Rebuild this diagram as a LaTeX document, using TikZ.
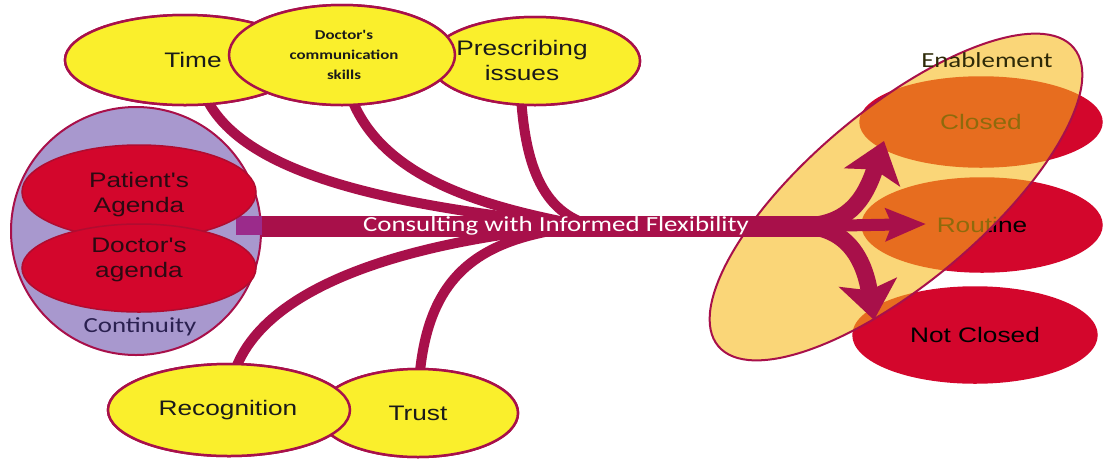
\documentclass[tikz,border=0pt]{standalone}
\usepackage{fontspec}
\usetikzlibrary{shapes.geometric,arrows.meta,calc}
\newfontfamily\arialw[FakeStretch=1.25]{Liberation Sans}
\newfontfamily\calw[FakeStretch=1.25]{Carlito}
\definecolor{crim}{HTML}{A8104A}
\definecolor{yel}{HTML}{FAEF2C}
\definecolor{lav}{HTML}{A898CE}
\definecolor{redA}{HTML}{D3062C}
\definecolor{redB}{HTML}{B00C30}
\definecolor{enab}{HTML}{F6B816}
\definecolor{magseg}{HTML}{9B2B8B}
\definecolor{darktxt}{HTML}{1A1A1A}
\definecolor{maroontxt}{HTML}{2B0A12}
\definecolor{navytxt}{HTML}{2A2050}
\definecolor{enabtxt}{HTML}{2E2A08}
\begin{document}
\begin{tikzpicture}[x=1pt,y=-1pt,
  yell/.style={ellipse, draw=crim, line width=2.5pt, fill=yel, inner sep=0pt},
  redell/.style={ellipse, draw=redB, line width=1.5pt, fill=redA, inner sep=0pt},
  lbl/.style={font=\arialw\fontsize{21}{25}\selectfont, text=darktxt, align=center, inner sep=0pt},
  calbl/.style={font=\calw\fontsize{21.5}{25}\selectfont, inner sep=0pt},
  stem/.style={draw=crim, line width=10pt},
  bigarrow/.style={draw=crim, line width=17pt, -{Stealth[length=38pt,width=58pt,inset=8pt]}},
  midarrow/.style={draw=crim, line width=12pt, -{Stealth[length=40pt,width=32pt,inset=6pt]}}
]
\useasboundingbox (0,0) rectangle (1104,459);

% ---------- ellipses (placed first; stems drawn from them) ----------
\path (185,60) node[yell, minimum width=240pt, minimum height=90pt] (time) {}
      (535,61) node[yell, minimum width=210pt, minimum height=88pt] (presc) {}
      (342,55) node[yell, minimum width=226pt, minimum height=100pt] (comm) {}
      (418,413) node[yell, minimum width=200pt, minimum height=88pt] (trust) {}
      (229,410) node[yell, minimum width=242pt, minimum height=92pt] (recog) {};

% stems
\coordinate (hub) at (825,226);
\draw[stem] ([xshift=12pt]time.center) .. controls (200,170) and (380,204) .. (575,225);
\draw[stem] (comm.center) .. controls (350,170) and (470,204) .. (580,225);
\draw[stem] ([xshift=-15pt]presc.center) .. controls (520,170) and (545,212) .. (590,225);
\draw[stem] (recog.center) .. controls (225,300) and (380,244) .. (575,226);
\draw[stem] (trust.center) .. controls (418,280) and (470,238) .. (585,226);

% ellipses again, over the stem ends
\node[yell, minimum width=240pt, minimum height=90pt] at (time.center) {};
\node[yell, minimum width=210pt, minimum height=88pt] at (presc.center) {};
\node[yell, minimum width=226pt, minimum height=100pt] at (comm.center) {};
\node[yell, minimum width=200pt, minimum height=88pt] at (trust.center) {};
\node[yell, minimum width=242pt, minimum height=92pt] at (recog.center) {};

\node[lbl] at (193,60) {Time};
\node[lbl] at (522,60) {Prescribing\\issues};
\node[font=\calw\bfseries\fontsize{13.5}{20}\selectfont, text=darktxt, align=center, inner sep=0pt] at (344,55) {Doctor's\\communication\\skills};
\node[lbl] at (228,410) {Recognition};
\node[lbl] at (418,413) {Trust};

% ---------- continuity ----------
\node[ellipse, draw=crim, line width=2pt, fill=lav, minimum width=250pt, minimum height=248pt, inner sep=0pt] (cont) at (136,231) {};
\fill[magseg] (236,216) rectangle (cont.east |- 0,235);
\node[redell, minimum width=234pt, minimum height=94pt] (pagenda) at (139,192) {};
\node[redell, minimum width=234pt, minimum height=88pt] (dagenda) at (139,268) {};
\node[lbl, text=maroontxt] at ([yshift=-3pt]pagenda.center) {Patient's\\Agenda};
\node[lbl, text=maroontxt] at ([yshift=8pt]dagenda.center) {Doctor's\\agenda};
\node[calbl, text=navytxt] at (140,327) {Continuity};

% ---------- right: outcomes ----------
\node[redell, draw=redA, minimum width=242pt, minimum height=90pt] (closed) at (981,122) {};
\node[redell, draw=redA, minimum width=240pt, minimum height=94pt] (routine) at (982,225) {};
\node[redell, draw=redA, minimum width=244pt, minimum height=96pt] (notclosed) at (975,335) {};
\node[lbl, text=black] at (closed.center) {Closed};
\node[lbl, text=black] at (routine.center) {Routine};
\node[lbl, text=black] at (notclosed.center) {Not Closed};

\node[ellipse, rotate=40, fill=enab, fill opacity=0.58, draw=crim, draw opacity=1, line width=2pt, minimum width=464pt, minimum height=174pt, inner sep=0pt] (enable) at (896,197) {};
\node[calbl, text=enabtxt] at (987,60) {Enablement};

% ---------- main bar and arrows ----------
\draw[crim, line width=21pt] (cont.east |- hub) -- (hub);
\draw[bigarrow] ([xshift=-24pt]hub) .. controls (846,226) and (864,202) .. (884,141);
\draw[bigarrow] ([xshift=-24pt]hub) .. controls (846,226) and (864,258) .. (874,320);
\draw[midarrow] ([xshift=-10pt]hub) -- (926,224);
\node[calbl, text=white] at (556,226) {Consulting with Informed Flexibility};
\end{tikzpicture}
\end{document}
